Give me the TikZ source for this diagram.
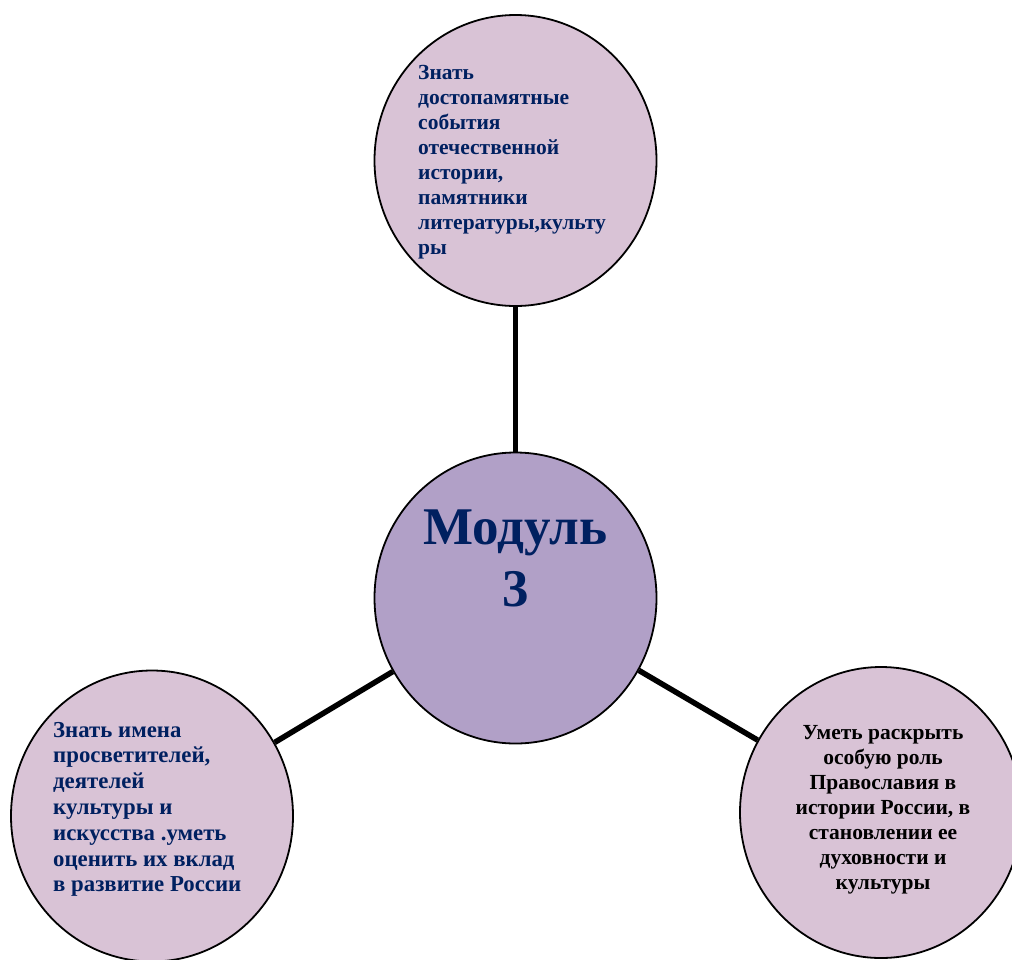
\documentclass[tikz,border=0pt]{standalone}
\usepackage{fontspec}
\setmainfont{Liberation Serif}
\usetikzlibrary{shapes.geometric}
\definecolor{bubblefill}{HTML}{D9C3D6}
\definecolor{hubfill}{HTML}{B1A0C7}
\definecolor{navy}{HTML}{002060}
\begin{document}
\begin{tikzpicture}[x=1pt,y=-1pt,
  bubble/.style={ellipse, draw=black, line width=1.8pt, fill=bubblefill,
    minimum width=282pt, minimum height=291pt, inner sep=0pt},
  hub/.style={bubble, fill=hubfill},
  link/.style={line width=5.5pt, black},
  smalltext/.style={inner sep=0pt, font=\bfseries\fontsize{21.5}{25}\selectfont},
]
\useasboundingbox (0,0) rectangle (1012,959);
\node[bubble] (top) at (515.5,160.5) {};
\node[hub] (hubc) at (515.5,598) {};
\node[bubble] (left) at (152,816) {};
\node[bubble] (right) at (881,812.5) {};
\draw[link] (hubc) -- (top);
\draw[link] (hubc) -- (left);
\draw[link] (hubc) -- (right);
\node[smalltext, text=navy, align=left, anchor=north west] (toptext) at (418,61.5)
  {\strut Знать\\достопамятные\\события\\отечественной\\истории,\\памятники\\литературы,культу\\ры};
\node[smalltext, text=navy, align=left, anchor=north west,
  font=\bfseries\fontsize{22.8}{25.8}\selectfont] (lefttext) at (53,718.9)
  {\strut Знать имена\\просветителей,\\деятелей\\культуры и\\искусства .уметь\\оценить их вклад\\в развитие России};
\node[smalltext, text=black, align=center, anchor=north] (righttext) at (883,721.5)
  {\strut Уметь раскрыть\\особую роль\\Православия в\\истории России, в\\становлении ее\\духовности и\\культуры};
\node[inner sep=0pt, text=navy, align=center, anchor=north,
  font=\bfseries\fontsize{53}{62}\selectfont] (hubtext) at (515.5,500.6)
  {\strut Модуль\\3};
\end{tikzpicture}
\end{document}
